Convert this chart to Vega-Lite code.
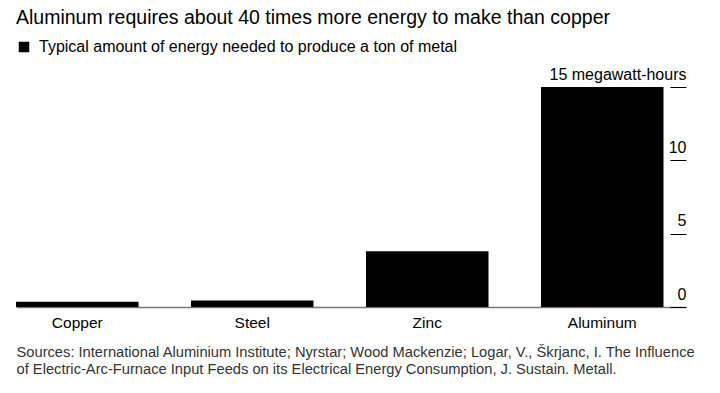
{
  "$schema": "https://vega.github.io/schema/vega-lite/v6.json",
  "width": 670,
  "height": 220,
  "padding": {"left": 16, "right": 34, "top": 7, "bottom": 5},
  "background": "white",
  "title": {
    "text": "Aluminum requires about 40 times more energy to make than copper",
    "anchor": "start",
    "frame": "group",
    "font": "Liberation Sans",
    "fontSize": 19.5,
    "fontWeight": "normal",
    "color": "#000000",
    "offset": 11
  },
  "data": {
    "values": [
      {"metal": "Copper", "energy": 0.35, "series": "Typical amount of energy needed to produce a ton of metal"},
      {"metal": "Steel", "energy": 0.45, "series": "Typical amount of energy needed to produce a ton of metal"},
      {"metal": "Zinc", "energy": 3.8, "series": "Typical amount of energy needed to produce a ton of metal"},
      {"metal": "Aluminum", "energy": 15, "series": "Typical amount of energy needed to produce a ton of metal"}
    ]
  },
  "mark": {"type": "bar"},
  "encoding": {
    "x": {
      "field": "metal",
      "type": "nominal",
      "sort": ["Copper", "Steel", "Zinc", "Aluminum"],
      "scale": {"paddingInner": 0.3, "paddingOuter": 0.0643, "align": 0},
      "axis": {
        "title": [
          "Sources: International Aluminium Institute; Nyrstar; Wood Mackenzie; Logar, V., Škrjanc, I. The Influence",
          "of Electric-Arc-Furnace Input Feeds on its Electrical Energy Consumption, J. Sustain. Metall."
        ],
        "titleAnchor": "start",
        "titleAlign": "left",
        "titleFont": "Liberation Sans",
        "titleFontSize": 14.7,
        "titleFontWeight": "normal",
        "titleColor": "#333333",
        "titleLineHeight": 16.5,
        "titlePadding": 14,
        "labelAngle": 0,
        "labelFont": "Liberation Sans",
        "labelFontSize": 15.5,
        "labelColor": "#000000",
        "labelPadding": 8,
        "ticks": false,
        "domain": true,
        "domainColor": "#777777",
        "domainWidth": 1.5
      }
    },
    "y": {
      "field": "energy",
      "type": "quantitative",
      "scale": {"domain": [0, 15], "nice": false},
      "axis": {
        "orient": "right",
        "offset": -16,
        "title": null,
        "values": [0, 5, 10, 15],
        "labelExpr": "datum.value == 15 ? '15 megawatt-hours' : datum.label",
        "domain": false,
        "grid": false,
        "ticks": true,
        "tickSize": 16,
        "tickColor": "#000000",
        "tickWidth": 1,
        "labelAlign": "right",
        "labelBaseline": "alphabetic",
        "labelPadding": 0,
        "labelOffset": -8,
        "labelFont": "Liberation Sans",
        "labelFontSize": 16,
        "labelColor": "#000000"
      }
    },
    "color": {
      "field": "series",
      "type": "nominal",
      "scale": {"range": ["#000000"]},
      "legend": {
        "orient": "top",
        "title": null,
        "symbolType": "square",
        "symbolSize": 110,
        "symbolStrokeWidth": 0,
        "labelFont": "Liberation Sans",
        "labelFontSize": 16,
        "labelColor": "#000000",
        "labelOffset": 7,
        "labelLimit": 0,
        "padding": 0,
        "offset": 32
      }
    }
  },
  "config": {
    "view": {"stroke": null},
    "bar": {"color": "#000000"}
  }
}
